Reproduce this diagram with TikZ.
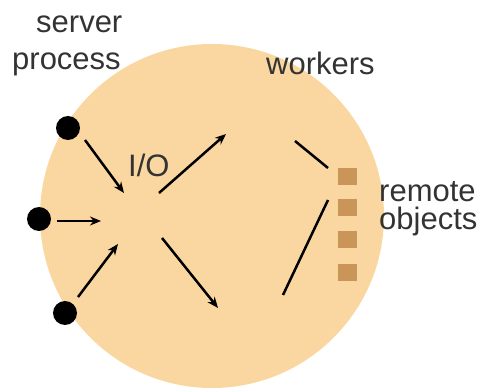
\documentclass[tikz,border=0pt]{standalone}
\usepackage{fontspec}
\setmainfont{Liberation Sans}
\usetikzlibrary{arrows.meta}
\begin{document}
\begin{tikzpicture}[x=1pt,y=-1pt,
  lbl/.style={inner sep=0pt,anchor=base west,font=\fontsize{31}{35}\selectfont,text=black!80},
  dot/.style={circle,fill=black,inner sep=0pt,minimum size=24pt},
  obj/.style={rectangle,fill=objcol,inner sep=0pt,minimum width=19pt,minimum height=17pt},
  arr/.style={line width=2.5pt,-{Stealth[length=11pt,width=9pt]}},
  link/.style={line width=2.5pt}]
\definecolor{bodycol}{HTML}{FAD7A0}
\definecolor{objcol}{HTML}{C99558}
\useasboundingbox (0,0) rectangle (485,390);
\fill[bodycol] (212,216) circle[radius=172];
% dots
\node[dot] (d1) at (68,128) {};
\node[dot] (d2) at (39,219) {};
\node[dot] (d3) at (65,313) {};
% objects
\node[obj] (o1) at (347,177) {};
\node[obj] (o2) at (347,208) {};
\node[obj] (o3) at (347,240) {};
\node[obj] (o4) at (347,273) {};
% coordinates
\coordinate (a1s) at (85,140);
\coordinate (a1e) at (124,193);
\coordinate (a2s) at (57,221);
\coordinate (a2e) at (101,221);
\coordinate (a3s) at (78,297);
\coordinate (a3e) at (118,244);
\coordinate (a4s) at (159,193);
\coordinate (a4e) at (226,134);
\coordinate (a5s) at (162,238);
\coordinate (a5e) at (218,308);
\coordinate (l1s) at (295,141);
\coordinate (l1e) at (328,168);
\coordinate (l2s) at (328,200);
\coordinate (l2e) at (283,295);
\draw[arr] (a1s) -- (a1e);
\draw[arr] (a2s) -- (a2e);
\draw[arr] (a3s) -- (a3e);
\draw[arr] (a4s) -- (a4e);
\draw[arr] (a5s) -- (a5e);
\draw[link] (l1s) -- (l1e);
\draw[link] (l2s) -- (l2e);
% labels
\node[lbl] (t1) at (36,33) {server};
\node[lbl] (t2) at (12,70) {process};
\node[lbl] (t3) at (266,75) {workers};
\node[lbl] (t4) at (128,177) {I/O};
\node[lbl] (t5) at (379,202) {remote};
\node[lbl] (t6) at (379,230) {objects};
\end{tikzpicture}
\end{document}
